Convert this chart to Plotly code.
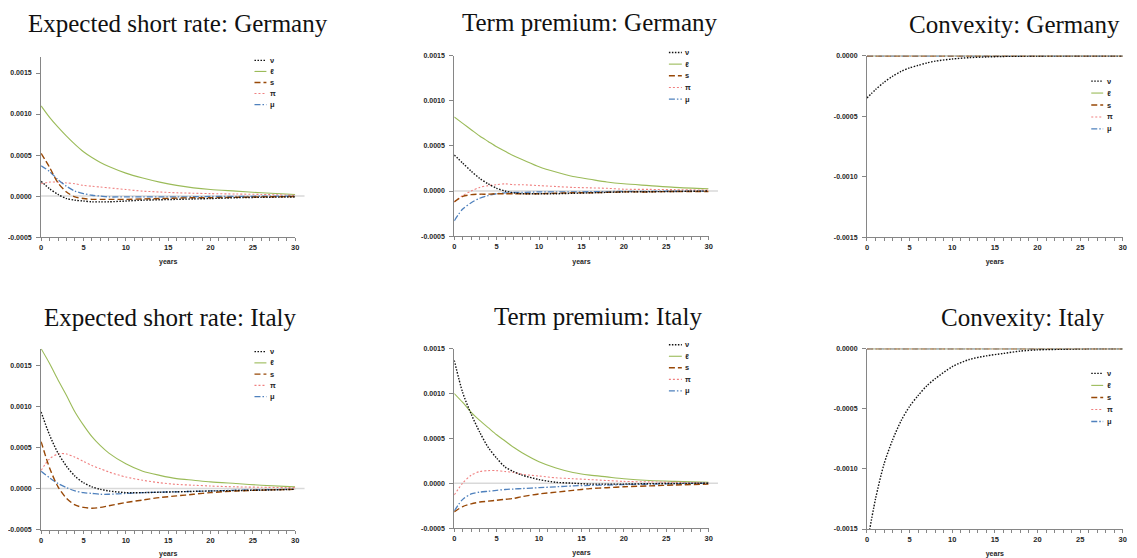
import plotly.graph_objects as go

# ---------------- data ----------------
YEARS = [0, 1, 2, 3, 4, 5, 6, 7, 8, 10, 12, 14, 16, 18, 20, 23, 26, 30]
SERIES_NAMES = ["ν", "ℓ", "s", "π", "μ"]

X_TICKS = [0, 5, 10, 15, 20, 25, 30]
X_TICK_LABELS = ["0", "5", "10", "15", "20", "25", "30"]
Y_TICKS_A = [-0.0005, 0.0, 0.0005, 0.0010, 0.0015]
Y_TICK_LABELS_A = ["-0.0005", "0.0000", "0.0005", "0.0010", "0.0015"]
Y_TICKS_C = [-0.0015, -0.0010, -0.0005, 0.0]
Y_TICK_LABELS_C = ["-0.0015", "-0.0010", "-0.0005", "0.0000"]

TITLES = ["Expected short rate: Germany", "Term premium: Germany", "Convexity: Germany",
          "Expected short rate: Italy", "Term premium: Italy", "Convexity: Italy"]

# Expected short rate: Germany
esr_de_nu = [0.00018, 0.00009, 0.00002, -0.00003, -0.00005, -0.00006, -0.00007, -0.00007, -0.00007,
             -0.00006, -0.00005, -0.000045, -0.00004, -0.000035, -0.00003, -0.00002, -0.000015, -0.00001]
esr_de_ell = [0.0011, 0.00096, 0.00084, 0.00073, 0.00063, 0.00054, 0.00047, 0.00041, 0.00036,
              0.00028, 0.00022, 0.00017, 0.00013, 0.0001, 0.00008, 0.00006, 0.00004, 0.00002]
esr_de_s = [0.00052, 0.00035, 0.00016, 0.00005, -0.00001, -0.00003, -0.00004, -0.00004, -0.00004,
            -0.00004, -0.000035, -0.00003, -0.000025, -0.00002, -0.00002, -0.000015, -0.00001, -0.000005]
esr_de_pi = [0.00015, 0.00017, 0.00017, 0.00016, 0.00015, 0.00013, 0.00012, 0.00011, 0.0001,
             0.00008, 0.00006, 0.00005, 0.00004, 0.000035, 0.00003, 0.000025, 0.00002, 0.00001]
esr_de_mu = [0.00037, 0.0003, 0.0002, 0.00012, 0.00006, 0.00003, 0.00001, 0.0, -0.00001,
             -0.00001, -0.00001, -0.00001, -0.00001, -0.000008, -0.000005, -0.000003, -0.000002, 0.0]

# Term premium: Germany
tp_de_nu = [0.0004, 0.00031, 0.00022, 0.00014, 0.00008, 0.00003, 0.0, -0.00002, -0.00003,
            -0.00003, -0.00003, -0.000025, -0.00002, -0.000015, -0.00001, -0.000008, -0.000005, 0.0]
tp_de_ell = [0.00082, 0.00075, 0.00068, 0.00061, 0.00055, 0.00049, 0.00044, 0.00039, 0.00035,
             0.00027, 0.00021, 0.00016, 0.00013, 0.0001, 0.00008, 0.00006, 0.00004, 0.000025]
tp_de_s = [-0.00012, -0.00006, -0.00004, -0.000035, -0.000035, -0.00003, -0.00003, -0.00003, -0.00003,
           -0.00003, -0.000025, -0.00002, -0.00002, -0.000015, -0.00001, -0.00001, -0.000005, -0.000005]
tp_de_pi = [-0.00012, -0.00005, 0.0, 0.00004, 0.00006, 0.00007, 0.00008, 0.00007, 0.00007,
            0.00006, 0.00005, 0.00004, 0.000035, 0.00003, 0.00002, 0.000018, 0.000015, 0.00001]
tp_de_mu = [-0.00033, -0.0002, -0.00013, -0.00008, -0.00005, -0.00003, -0.00002, -0.000015, -0.000015,
            -0.00001, -0.00001, -0.00001, -0.000008, -0.000006, -0.000005, -0.000003, -0.000002, 0.0]

# Convexity: Germany
cx_de_nu = [-0.00035, -0.00028, -0.00022, -0.00017, -0.00013, -0.0001, -0.00008, -0.00006, -0.000045,
            -0.000027, -0.000016, -0.00001, -0.000006, -0.000004, -0.000002, -0.000001, 0.0, 0.0]
cx_de_ell = [0.0, 0.0, 0.0, 0.0, 0.0, 0.0, 0.0, 0.0, 0.0, 0.0, 0.0, 0.0, 0.0, 0.0, 0.0, 0.0, 0.0, 0.0]
cx_de_s = [0.0, 0.0, 0.0, 0.0, 0.0, 0.0, 0.0, 0.0, 0.0, 0.0, 0.0, 0.0, 0.0, 0.0, 0.0, 0.0, 0.0, 0.0]
cx_de_pi = [0.0, 0.0, 0.0, 0.0, 0.0, 0.0, 0.0, 0.0, 0.0, 0.0, 0.0, 0.0, 0.0, 0.0, 0.0, 0.0, 0.0, 0.0]
cx_de_mu = [0.0, 0.0, 0.0, 0.0, 0.0, 0.0, 0.0, 0.0, 0.0, 0.0, 0.0, 0.0, 0.0, 0.0, 0.0, 0.0, 0.0, 0.0]

# Expected short rate: Italy
esr_it_nu = [0.00093, 0.00065, 0.00043, 0.00027, 0.00015, 0.00007, 0.00002, -0.00001, -0.00003,
             -0.00005, -0.00005, -0.000045, -0.00004, -0.000035, -0.00003, -0.000025, -0.00002, -0.00001]
esr_it_ell = [0.0017, 0.00152, 0.00132, 0.00113, 0.00093, 0.00077, 0.00063, 0.00052, 0.00043,
              0.0003, 0.00021, 0.00016, 0.00012, 0.0001, 0.00008, 0.00006, 0.00004, 0.00002]
esr_it_s = [0.00057, 0.00025, 0.00002, -0.00012, -0.0002, -0.00023, -0.00024, -0.00023, -0.00021,
            -0.00017, -0.00014, -0.00011, -0.00009, -0.00007, -0.00005, -0.00003, -0.00002, -0.00001]
esr_it_pi = [0.00022, 0.00036, 0.00042, 0.00042, 0.00038, 0.00033, 0.00028, 0.00024, 0.0002,
             0.00014, 0.0001, 0.00007, 0.00005, 0.00004, 0.00003, 0.00002, 0.000015, 0.00001]
esr_it_mu = [0.00021, 0.00013, 0.00006, 0.00001, -0.00003, -0.00005, -0.00006, -0.00007, -0.00007,
             -0.00006, -0.00005, -0.000045, -0.00004, -0.000035, -0.00003, -0.00002, -0.000015, -0.00001]

# Term premium: Italy
tp_it_nu = [0.00137, 0.00101, 0.00077, 0.00057, 0.0004, 0.00028, 0.00018, 0.00013, 0.00009,
            0.00004, 0.00001, 0.0, -0.00001, -0.00001, -0.00001, -0.000005, -0.000003, 0.0]
tp_it_ell = [0.001, 0.0009, 0.00079, 0.0007, 0.00062, 0.00054, 0.00047, 0.0004, 0.00034,
             0.00024, 0.00017, 0.00012, 0.00009, 0.00007, 0.00005, 0.00003, 0.00002, 0.00001]
tp_it_s = [-0.00032, -0.00026, -0.00023, -0.00021, -0.0002, -0.00019, -0.00018, -0.00017, -0.00015,
           -0.00012, -0.0001, -0.00008, -0.00006, -0.00005, -0.00004, -0.00003, -0.00002, -0.00001]
tp_it_pi = [-0.00013, 0.0, 0.00009, 0.00013, 0.00014, 0.00014, 0.00013, 0.00012, 0.0001,
            0.00008, 0.00006, 0.00005, 0.00004, 0.00003, 0.00002, 0.000015, 0.00001, 0.000005]
tp_it_mu = [-0.00031, -0.00018, -0.00012, -0.0001, -0.00009, -0.00008, -0.00007, -0.000065, -0.00006,
            -0.00005, -0.00004, -0.00003, -0.000025, -0.00002, -0.000015, -0.00001, -0.000005, 0.0]

# Convexity: Italy
cx_it_nu = [-0.00163, -0.00125, -0.00096, -0.00076, -0.0006, -0.00048, -0.00039, -0.00031, -0.00025,
            -0.00015, -0.00009, -0.00006, -0.00004, -0.00002, -0.00001, -0.000005, 0.0, 0.0]
cx_it_ell = [0.0, 0.0, 0.0, 0.0, 0.0, 0.0, 0.0, 0.0, 0.0, 0.0, 0.0, 0.0, 0.0, 0.0, 0.0, 0.0, 0.0, 0.0]
cx_it_s = [0.0, 0.0, 0.0, 0.0, 0.0, 0.0, 0.0, 0.0, 0.0, 0.0, 0.0, 0.0, 0.0, 0.0, 0.0, 0.0, 0.0, 0.0]
cx_it_pi = [0.0, 0.0, 0.0, 0.0, 0.0, 0.0, 0.0, 0.0, 0.0, 0.0, 0.0, 0.0, 0.0, 0.0, 0.0, 0.0, 0.0, 0.0]
cx_it_mu = [0.0, 0.0, 0.0, 0.0, 0.0, 0.0, 0.0, 0.0, 0.0, 0.0, 0.0, 0.0, 0.0, 0.0, 0.0, 0.0, 0.0, 0.0]

PANEL_DATA = [
    [esr_de_nu, esr_de_ell, esr_de_s, esr_de_pi, esr_de_mu],
    [tp_de_nu, tp_de_ell, tp_de_s, tp_de_pi, tp_de_mu],
    [cx_de_nu, cx_de_ell, cx_de_s, cx_de_pi, cx_de_mu],
    [esr_it_nu, esr_it_ell, esr_it_s, esr_it_pi, esr_it_mu],
    [tp_it_nu, tp_it_ell, tp_it_s, tp_it_pi, tp_it_mu],
    [cx_it_nu, cx_it_ell, cx_it_s, cx_it_pi, cx_it_mu],
]

# ---------------- styling / layout ----------------
# The page body has an 8px default margin, so the figure is sized to fit inside the window
PAGE_OFF = 8
W, H = 1129, 550
COLORS = ["#111111", "#9BBB59", "#984807", "#F08080", "#4F81BD"]
DASHES = ["1.5px,1.5px", "solid", "6px,3px", "2px,2px", "6px,2px,1.5px,2px"]
WIDTHS = [1.4, 1.1, 1.4, 1.1, 1.3]
DRAW_ORDER = [1, 3, 4, 2, 0]


def px_x(x):
    return (x - PAGE_OFF) / W


def px_y(y):
    return 1 - (y - PAGE_OFF) / H


# per panel (page pixel coords): x span, y span (top,bottom), y range, tick set
PANELS = [
    dict(xpx=(38.3, 294.0), ypx=(53.2, 236.0), yr=(-0.0005, 0.0017), kind="A"),
    dict(xpx=(454.0, 710.0), ypx=(52.3, 235.0), yr=(-0.0005, 0.0015), kind="A"),
    dict(xpx=(869.3, 1126.7), ypx=(52.3, 236.0), yr=(-0.0015, 0.0), kind="C"),
    dict(xpx=(38.3, 294.0), ypx=(349.0, 532.3), yr=(-0.0005, 0.0017), kind="A"),
    dict(xpx=(454.0, 710.0), ypx=(349.0, 530.7), yr=(-0.0005, 0.0015), kind="A"),
    dict(xpx=(869.3, 1126.7), ypx=(349.0, 531.7), yr=(-0.0015, 0.0), kind="C"),
]
TITLE_POS = [(176, 20), (591, 19), (1018, 21), (168, 317), (599, 316), (1026, 317)]
LEGEND_POS = [  # line x0, x1, first y, step
    (253, 265, 57, 11.2), (670, 683, 49, 11.8), (1095, 1107, 78, 12.1),
    (253, 265, 352, 11.4), (670, 683, 345, 11.7), (1095, 1107, 374, 12.2),
]

TICK_FONT = dict(family="Liberation Sans, Arial, sans-serif", size=7, color="#262626", weight="bold")
XTICK_FONT = dict(family="Liberation Sans, Arial, sans-serif", size=7.5, color="#262626", weight="bold")
AXIS_COLOR = "#868686"

fig = go.Figure()
shapes, annotations = [], []

for p, panel in enumerate(PANELS):
    sfx = "" if p == 0 else str(p + 1)
    xa, ya = "x" + sfx, "y" + sfx
    for k in DRAW_ORDER:
        fig.add_trace(go.Scatter(
            x=YEARS, y=PANEL_DATA[p][k], mode="lines", name=SERIES_NAMES[k],
            xaxis=xa, yaxis=ya, showlegend=False, hoverinfo="skip",
            line=dict(color=COLORS[k], width=WIDTHS[k], dash=DASHES[k], shape="spline", smoothing=0.8),
        ))
    x0p, x1p = px_x(panel["xpx"][0]), px_x(panel["xpx"][1])
    y0p, y1p = px_y(panel["ypx"][1]), px_y(panel["ypx"][0])
    yt = Y_TICKS_A if panel["kind"] == "A" else Y_TICKS_C
    ytl = Y_TICK_LABELS_A if panel["kind"] == "A" else Y_TICK_LABELS_C
    fig.layout["xaxis" + sfx] = dict(
        domain=[x0p, x1p], range=[0, 30], anchor=ya, tickmode="array", tickvals=X_TICKS,
        ticktext=X_TICK_LABELS, showgrid=False, zeroline=False, showline=True, linecolor=AXIS_COLOR,
        linewidth=1, ticks="outside", ticklen=3, tickcolor=AXIS_COLOR, tickfont=XTICK_FONT,
        minor=dict(dtick=1, ticks="outside", ticklen=3, tickcolor=AXIS_COLOR, showgrid=False),
        title=dict(text="years", font=TICK_FONT, standoff=8), fixedrange=True,
    )
    fig.layout["yaxis" + sfx] = dict(
        domain=[y0p, y1p], range=list(panel["yr"]), anchor=xa, tickmode="array", tickvals=yt,
        ticktext=ytl, showgrid=False, zeroline=False, showline=True, linecolor=AXIS_COLOR,
        linewidth=1, ticks="outside", ticklen=4, tickcolor=AXIS_COLOR, tickfont=TICK_FONT,
        ticklabelstandoff=3, fixedrange=True,
    )
    # gray horizontal line at zero (extends a little past the axis end as in the reference)
    ymin, ymax = panel["yr"]
    yz = y0p + (0 - ymin) / (ymax - ymin) * (y1p - y0p)
    ext = 31.1 if panel["kind"] == "A" else 30.0
    shapes.append(dict(type="line", xref="paper", yref="paper", x0=x0p,
                       x1=x0p + (x1p - x0p) * ext / 30.0, y0=yz, y1=yz,
                       line=dict(color="#D9D9D9", width=1.5), layer="below"))
    # title
    tx, ty = TITLE_POS[p]
    annotations.append(dict(text=TITLES[p], xref="paper", yref="paper", x=px_x(tx), y=px_y(ty),
                            xanchor="center", yanchor="middle", showarrow=False,
                            font=dict(family="Liberation Serif, Times New Roman, serif", size=25, color="#111111")))
    # legend (drawn as key lines + labels)
    lx0, lx1, ly0, lstep = LEGEND_POS[p]
    for k, nm in enumerate(SERIES_NAMES):
        yy = px_y(ly0 + k * lstep)
        shapes.append(dict(type="line", xref="paper", yref="paper", x0=px_x(lx0), x1=px_x(lx1), y0=yy, y1=yy,
                           line=dict(color=COLORS[k], width=WIDTHS[k], dash=DASHES[k])))
        annotations.append(dict(text=nm, xref="paper", yref="paper", x=px_x(lx1 + 1.5), y=yy,
                                xanchor="left", yanchor="middle", showarrow=False,
                                font=dict(family="Liberation Sans, Arial, sans-serif", size=7.5,
                                          color="#262626", weight="bold")))

fig.update_layout(
    width=W, height=H, margin=dict(l=0, r=0, t=0, b=0),
    paper_bgcolor="white", plot_bgcolor="white",
    shapes=shapes, annotations=annotations, showlegend=False,
)

fig.write_html("out.html")
